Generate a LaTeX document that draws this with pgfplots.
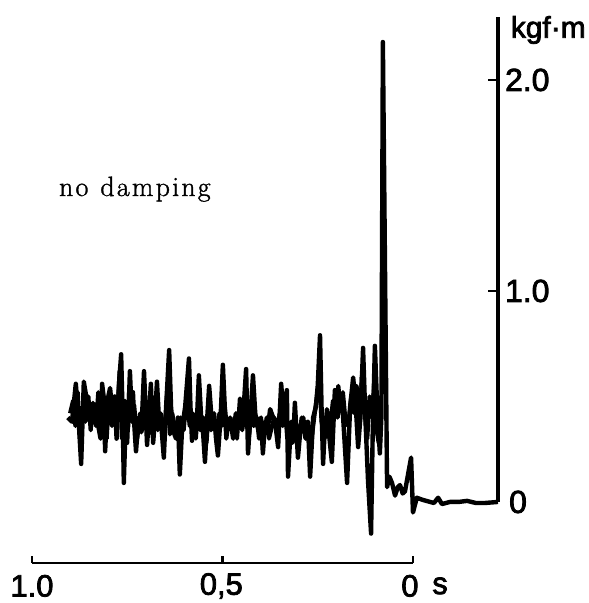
\documentclass[border=0pt]{standalone}
\usepackage{pgfplots}
\pgfplotsset{compat=1.18}
\usepackage{fontspec}
\newfontfamily\lab[FakeBold=2.5]{Liberation Sans}
\newfontfamily\nd[LetterSpace=8,FakeBold=1.2]{Latin Modern Roman}
\begin{document}
\begin{tikzpicture}
\begin{axis}[hide axis, scale only axis, width=589bp, height=603bp,
  x dir=reverse, xmin=-0.462, xmax=1.084, ymin=-0.479, ymax=2.379, clip=false]
\addplot[black, line width=4.2bp, line join=round] coordinates {
(0.900,0.42) (0.892,0.48) (0.886,0.36) (0.880,0.52) (0.874,0.30) (0.868,0.45)
(0.860,0.38) (0.852,0.50) (0.846,0.34) (0.840,0.47) (0.832,0.36) (0.826,0.52)
(0.818,0.40) (0.810,0.46) (0.804,0.30) (0.798,0.50) (0.790,0.36) (0.784,0.44)
(0.776,0.40) (0.770,0.62) (0.764,0.30) (0.756,0.48) (0.750,0.28) (0.745,0.52)
(0.738,0.38) (0.732,0.46) (0.724,0.30) (0.716,0.42) (0.710,0.34) (0.704,0.50)
(0.696,0.36) (0.690,0.45) (0.684,0.32) (0.676,0.50) (0.670,0.34) (0.662,0.42)
(0.656,0.30) (0.650,0.38) (0.644,0.55) (0.638,0.32) (0.632,0.42) (0.626,0.36)
(0.618,0.30) (0.610,0.40) (0.602,0.34) (0.594,0.50) (0.586,0.36) (0.578,0.42)
(0.570,0.30) (0.564,0.45) (0.558,0.34) (0.550,0.40) (0.542,0.28) (0.536,0.44)
(0.530,0.34) (0.524,0.40) (0.516,0.32) (0.508,0.42) (0.502,0.36) (0.496,0.48)
(0.490,0.30) (0.484,0.38) (0.476,0.34) (0.468,0.40) (0.462,0.30) (0.456,0.44)
(0.448,0.34) (0.442,0.50) (0.436,0.36) (0.430,0.32) (0.424,0.45) (0.418,0.36)
(0.410,0.40) (0.404,0.30) (0.396,0.38) (0.390,0.32) (0.384,0.40) (0.378,0.30)
(0.370,0.36) (0.364,0.40) (0.356,0.32) (0.350,0.42) (0.342,0.36) (0.336,0.46)
(0.330,0.30) (0.322,0.35) (0.316,0.28) (0.308,0.38) (0.300,0.30) (0.292,0.40)
(0.286,0.34) (0.278,0.30) (0.272,0.36) (0.266,0.30) (0.258,0.42) (0.252,0.50)
(0.246,0.60) (0.240,0.38) (0.232,0.30) (0.226,0.44) (0.218,0.34) (0.210,0.48)
(0.202,0.44) (0.196,0.55) (0.190,0.44) (0.184,0.52) (0.178,0.40) (0.170,0.36)
(0.162,0.50) (0.154,0.42) (0.148,0.55) (0.140,0.36) (0.134,0.60) (0.128,0.45)
(0.120,0.30) (0.114,0.50) (0.108,0.40) (0.102,0.55) (0.096,0.35) (0.090,0.28)
(0.085,0.30)
};
\addplot[black, line width=4.4bp, line join=round] coordinates {
(0.906,0.40) (0.895,0.38) (0.885,0.56) (0.878,0.40) (0.871,0.18) (0.867,0.40)
(0.864,0.57) (0.855,0.47) (0.848,0.42) (0.843,0.44) (0.838,0.40) (0.835,0.46)
(0.828,0.38) (0.820,0.30) (0.816,0.56) (0.812,0.50) (0.808,0.24) (0.802,0.48)
(0.795,0.54) (0.788,0.40) (0.783,0.50) (0.778,0.30) (0.772,0.55) (0.766,0.70)
(0.762,0.40) (0.759,0.09) (0.753,0.45) (0.748,0.35) (0.743,0.62) (0.739,0.45)
(0.735,0.52) (0.731,0.35) (0.727,0.24) (0.720,0.40) (0.713,0.33) (0.706,0.62)
(0.702,0.45) (0.698,0.27) (0.693,0.40) (0.688,0.56) (0.682,0.28) (0.677,0.40)
(0.672,0.57) (0.667,0.40) (0.660,0.35) (0.654,0.21) (0.648,0.45) (0.640,0.72)
(0.635,0.45) (0.630,0.34) (0.622,0.30) (0.617,0.40) (0.612,0.13) (0.606,0.35)
(0.598,0.45) (0.588,0.68) (0.584,0.45) (0.580,0.29) (0.574,0.40) (0.568,0.35)
(0.562,0.60) (0.556,0.40) (0.551,0.33) (0.546,0.19) (0.540,0.40) (0.535,0.55)
(0.528,0.38) (0.522,0.42) (0.517,0.30) (0.512,0.22) (0.505,0.40) (0.499,0.65)
(0.494,0.45) (0.488,0.34) (0.480,0.40) (0.472,0.30) (0.465,0.42) (0.459,0.35)
(0.454,0.49) (0.446,0.40) (0.438,0.63) (0.433,0.23) (0.427,0.40) (0.420,0.60)
(0.414,0.42) (0.407,0.35) (0.399,0.40) (0.394,0.23) (0.388,0.38) (0.382,0.33)
(0.375,0.44) (0.367,0.40) (0.360,0.35) (0.354,0.26) (0.346,0.56) (0.340,0.42)
(0.331,0.53) (0.328,0.12) (0.320,0.38) (0.314,0.30) (0.310,0.47) (0.302,0.21)
(0.295,0.35) (0.288,0.40) (0.282,0.30) (0.276,0.38) (0.270,0.12) (0.262,0.40)
(0.255,0.45) (0.250,0.55) (0.244,0.79) (0.240,0.45) (0.236,0.18) (0.230,0.40)
(0.222,0.35) (0.213,0.19) (0.205,0.53) (0.198,0.40) (0.192,0.50) (0.186,0.48)
(0.180,0.30) (0.173,0.09) (0.165,0.45) (0.157,0.59) (0.150,0.45) (0.144,0.26)
(0.138,0.40) (0.131,0.73) (0.125,0.40) (0.118,0.10) (0.110,-0.15) (0.106,0.30)
(0.100,0.74) (0.094,0.45) (0.087,0.23) (0.083,0.40) (0.079,2.18) (0.068,0.07)
(0.062,0.12) (0.055,0.09) (0.047,0.03) (0.040,0.07) (0.034,0.08) (0.027,0.04)
(0.021,0.05) (0.005,0.21) (0.000,-0.05) (-0.010,0.02) (-0.025,0.01) (-0.045,0.0)
(-0.055,-0.005) (-0.066,0.02) (-0.076,-0.01) (-0.097,0.0) (-0.120,0.0)
(-0.142,0.005) (-0.165,-0.005) (-0.189,-0.005) (-0.223,0.0)
};
% y axis
\draw[line width=3.2bp] (axis cs:-0.223,0) -- (axis cs:-0.223,2.30);
\draw[line width=2.8bp] (axis cs:-0.223,1) -- (axis cs:-0.197,1);
\draw[line width=2.8bp] (axis cs:-0.223,2) -- (axis cs:-0.197,2);
\node[anchor=west, inner sep=0pt, font=\lab\fontsize{32}{36}\selectfont] at ([xshift=7bp]axis cs:-0.223,2) {2.0};
\node[anchor=west, inner sep=0pt, font=\lab\fontsize{32}{36}\selectfont] at ([xshift=7bp]axis cs:-0.223,1) {1.0};
\node[anchor=west, inner sep=0pt, font=\lab\fontsize{32}{36}\selectfont] at ([xshift=11bp]axis cs:-0.223,0) {0};
\node[inner sep=0pt, font=\lab\fontsize{30}{33}\selectfont] at (axis cs:-0.355,2.237) {kgf·m};
% x axis
\draw[line width=2.8bp] (axis cs:1,-0.289) -- (axis cs:0,-0.289);
\draw[line width=2.8bp] (axis cs:1,-0.289) -- (axis cs:1,-0.255);
\draw[line width=2.8bp] (axis cs:0.5,-0.289) -- (axis cs:0.5,-0.255);
\draw[line width=2.8bp] (axis cs:0,-0.289) -- (axis cs:0,-0.255);
\node[inner sep=0pt, font=\lab\fontsize{31}{34}\selectfont] at (axis cs:1.0,-0.398) {1.0};
\node[inner sep=0pt, font=\lab\fontsize{31}{34}\selectfont] at (axis cs:0.503,-0.398) {0,5};
\node[inner sep=0pt, font=\lab\fontsize{31}{34}\selectfont] at (axis cs:0.008,-0.398) {0};
\node[inner sep=0pt, font=\lab\fontsize{31}{34}\selectfont] at (axis cs:-0.071,-0.398) {s};
\node[anchor=base, inner sep=0pt, font=\nd\fontsize{28}{31}\selectfont] at (axis cs:0.730,1.450) {no\hspace{12bp}damping};
\end{axis}
\pgfresetboundingbox
\path[use as bounding box] (current axis.south west) rectangle (current axis.north east);
\end{tikzpicture}
\end{document}
